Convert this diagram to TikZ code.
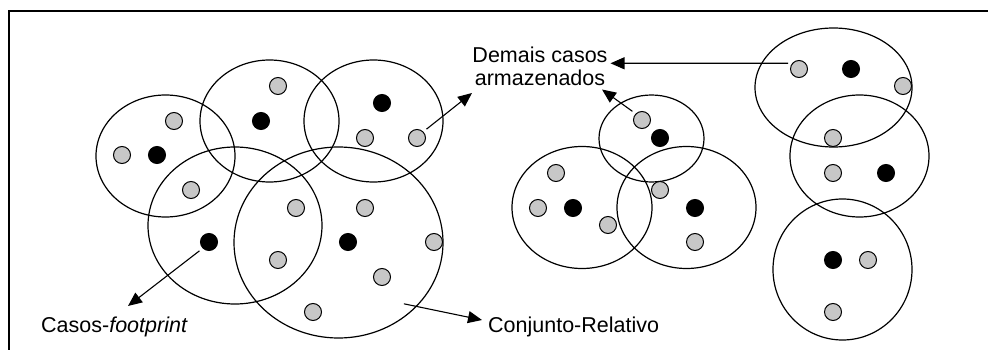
\documentclass[tikz,border=0pt]{standalone}
\usepackage{fontspec}
\setmainfont{Liberation Sans}
\usepackage{tikz}
\usetikzlibrary{shapes,arrows.meta,positioning}
\tikzstyle{grupo} = [ellipse, draw, line width=1.2pt, inner sep=0pt]
\tikzstyle{caso}  = [circle, draw, line width=1pt, fill=black!22,
                     minimum size=17pt, inner sep=0pt]
\tikzstyle{fp}    = [caso, fill=black]
\tikzstyle{ptr}   = [draw, -{Triangle[length=14pt,width=12pt]},
                     line width=1.1pt, shorten <=4pt]
\tikzstyle{rotulo} = [font=\fontsize{21.5}{23.5}\selectfont, inner sep=0pt]

\begin{document}
\begin{tikzpicture}[x=1pt, y=-1pt]
		\useasboundingbox (0,0) rectangle (988,350);
		\draw[line width=1.6pt] (9,350) -- (9,11) -- (988,11);

		\node[grupo, minimum width=139pt, minimum height=122pt] (g1) at (165.5,156) {};
		\node[grupo, minimum width=139pt, minimum height=122pt] (g2) at (269.5,121) {};
		\node[grupo, minimum width=139pt, minimum height=122pt] (g3) at (373.5,121) {};
		\node[grupo, minimum width=174pt, minimum height=157pt] (g4) at (235,225.5) {};
		\node[grupo, minimum width=209pt, minimum height=191pt] (g5) at (338.5,242.5) {};
		\node[grupo, minimum width=105pt, minimum height=87pt] (g6) at (651.5,138.5) {};
		\node[grupo, minimum width=140pt, minimum height=122pt] (g7) at (582,207.5) {};
		\node[grupo, minimum width=139pt, minimum height=122pt] (g8) at (686.5,207.5) {};
		\node[grupo, minimum width=157pt, minimum height=119pt] (g9) at (833.5,87.5) {};
		\node[grupo, minimum width=139pt, minimum height=122pt] (g10) at (859.5,156) {};
		\node[grupo, minimum width=139pt, minimum height=141pt] (g11) at (842.5,269.5) {};

		\node[caso] (c1) at (174,121) {};
		\node[caso] (c2) at (122,155) {};
		\node[caso] (c3) at (191,190) {};
		\node[caso] (c4) at (278,86) {};
		\node[caso] (c5) at (365,138) {};
		\node[caso] (c6) at (417,138) {};
		\node[caso] (c7) at (296,208) {};
		\node[caso] (c8) at (365,208) {};
		\node[caso] (c9) at (434,242) {};
		\node[caso] (c10) at (278,260) {};
		\node[caso] (c11) at (382,277) {};
		\node[caso] (c12) at (313,312) {};
		\node[caso] (c13) at (642,120) {};
		\node[caso] (c14) at (556,173) {};
		\node[caso] (c15) at (660,190) {};
		\node[caso] (c16) at (538,208) {};
		\node[caso] (c17) at (608,225) {};
		\node[caso] (c18) at (695,242) {};
		\node[caso] (c19) at (799,69) {};
		\node[caso] (c20) at (903,86) {};
		\node[caso] (c21) at (833,138) {};
		\node[caso] (c22) at (833,173) {};
		\node[caso] (c23) at (868,260) {};
		\node[caso] (c24) at (833,312) {};

		\node[fp] (f1) at (157,155) {};
		\node[fp] (f2) at (261,121) {};
		\node[fp] (f3) at (382,103) {};
		\node[fp] (f4) at (209,242) {};
		\node[fp] (f5) at (348,242) {};
		\node[fp] (f6) at (660,138) {};
		\node[fp] (f7) at (573,208) {};
		\node[fp] (f8) at (695,208) {};
		\node[fp] (f9) at (851,69) {};
		\node[fp] (f10) at (886,173) {};
		\node[fp] (f11) at (833,260) {};

		\node[rotulo, anchor=base west] (casos) at (41,332) {Casos-\textit{footprint}};
		\node[rotulo, anchor=base west] (conj) at (488,332) {Conjunto-Relativo};
		\node[rotulo, anchor=base, align=center] (demais) at (540,86) {Demais casos\\armazenados};

		\coordinate (tA) at (472,93);
		\coordinate (tB) at (602,89.5);
		\coordinate (tC) at (610.5,63.3);
		\coordinate (tD) at (128,306);
		\coordinate (tE) at (482,320);
		\coordinate (rel) at (400,303);

		\draw[ptr] (c6.north east) -- (tA);
		\draw[ptr] (c13.north west) -- (tB);
		\draw[ptr] (c19.140) -- (tC);
		\draw[ptr] (f4.south west) -- (tD);
		\draw[ptr] (rel) -- (tE);
	\end{tikzpicture}
\end{document}
